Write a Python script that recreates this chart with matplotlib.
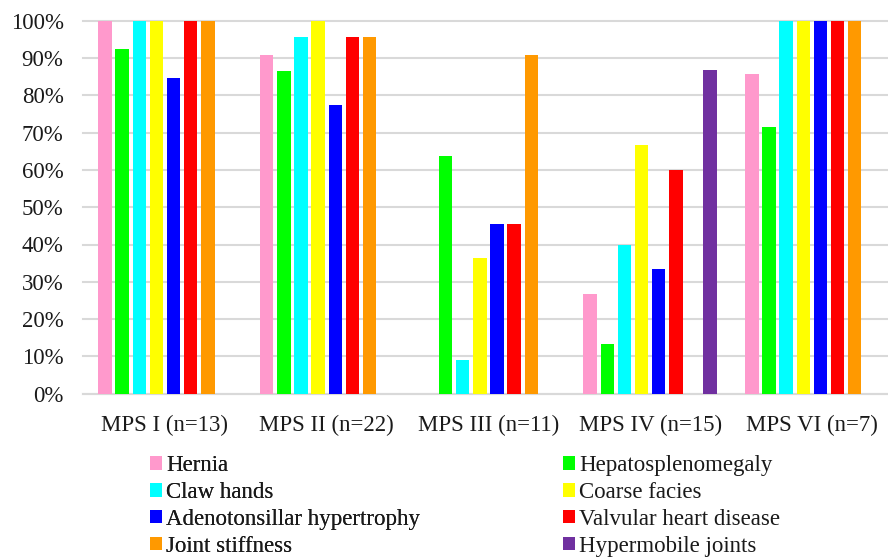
import numpy as np
import matplotlib
matplotlib.use("Agg")
import matplotlib.pyplot as plt
from matplotlib.ticker import PercentFormatter

groups = ["MPS I (n=13)", "MPS II (n=22)", "MPS III (n=11)", "MPS IV (n=15)", "MPS VI (n=7)"]
features = ["Hernia", "Hepatosplenomegaly", "Claw hands", "Coarse facies",
            "Adenotonsillar hypertrophy", "Valvular heart disease",
            "Joint stiffness", "Hypermobile joints"]
colors = ["#FF99CC", "#00FF00", "#00FFFF", "#FFFF00", "#0000FF", "#FF0000", "#FF9900", "#7030A0"]

# share of patients per group (fractions), one list per feature
hernia = [1.0, 0.909, 0.0, 0.267, 0.857]
hepatosplenomegaly = [0.923, 0.864, 0.636, 0.133, 0.714]
claw_hands = [1.0, 0.955, 0.091, 0.40, 1.0]
coarse_facies = [1.0, 1.0, 0.364, 0.667, 1.0]
adenotonsillar = [0.846, 0.773, 0.455, 0.333, 1.0]
valvular = [1.0, 0.955, 0.455, 0.60, 1.0]
joint_stiffness = [1.0, 0.955, 0.909, 0.0, 1.0]
hypermobile = [0.0, 0.0, 0.0, 0.867, 0.0]
series = [hernia, hepatosplenomegaly, claw_hands, coarse_facies,
          adenotonsillar, valvular, joint_stiffness, hypermobile]

plt.rcParams["font.family"] = ["Liberation Serif", "DejaVu Serif"]
text_color = "#1a1a1a"
fs = 16.5

fig = plt.figure(figsize=(8.88, 5.59), dpi=100)
ax = fig.add_axes([83 / 888, 165.3 / 559, 805 / 888, 373 / 559])

x = np.arange(len(groups))
pitch, width = 0.106, 0.083
bars = []
for i, (vals, c, name) in enumerate(zip(series, colors, features)):
    bars.append(ax.bar(x + (i - 3.5) * pitch, vals, width, color=c, label=name, zorder=3))

ax.set_xlim(-0.507, 4.471)
ax.set_ylim(0, 1.0)
ax.set_yticks(np.arange(0, 1.01, 0.1))
ax.yaxis.set_major_formatter(PercentFormatter(1.0, decimals=0))
ax.set_xticks(x)
ax.set_xticklabels(groups)
ax.tick_params(axis="both", length=0, labelsize=fs, colors=text_color)
ax.tick_params(axis="y", pad=14)
ax.tick_params(axis="x", pad=15.5)
ax.grid(axis="y", color="#d9d9d9", lw=1.5, zorder=0)
for ln in ax.get_ygridlines():
    ln.set_clip_on(False)
for s in ("top", "right", "left"):
    ax.spines[s].set_visible(False)
ax.spines["bottom"].set_color("#d9d9d9")
ax.spines["bottom"].set_linewidth(1.5)

# legend laid out row by row in two columns
leg_kw = dict(loc="upper left", frameon=False, fontsize=fs, handlelength=0.52,
              handleheight=0.52, handletextpad=0.18, labelspacing=0.26,
              borderpad=0, borderaxespad=0, labelcolor=text_color)
left_idx, right_idx = [0, 2, 4, 6], [1, 3, 5, 7]
leg1 = fig.legend([bars[i] for i in left_idx], [features[i] for i in left_idx],
                  bbox_to_anchor=(150 / 888, 1 - 455 / 559), **leg_kw)
fig.add_artist(leg1)
fig.legend([bars[i] for i in right_idx], [features[i] for i in right_idx],
           bbox_to_anchor=(563 / 888, 1 - 455 / 559), **leg_kw)

fig.savefig("out.png", dpi=100)
